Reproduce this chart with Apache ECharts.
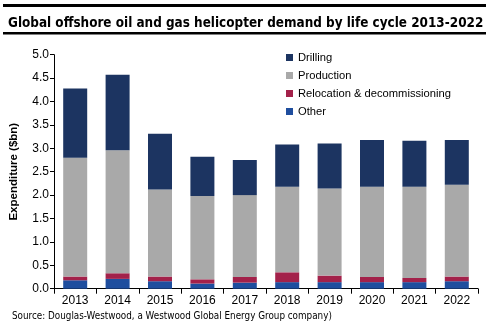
<!DOCTYPE html>
<html><head><meta charset="utf-8">
<script src="https://cdn.jsdelivr.net/npm/echarts@6/dist/echarts.min.js"></script>
<style>html,body{margin:0;padding:0;background:#fff}#c{width:500px;height:331px}</style>
</head><body><div id="c"></div>
<script>
const years = ['2013','2014','2015','2016','2017','2018','2019','2020','2021','2022'];
const other = [0.18,0.21,0.16,0.11,0.13,0.14,0.14,0.14,0.14,0.16];
const relocation = [0.08,0.12,0.10,0.09,0.12,0.21,0.14,0.11,0.09,0.10];
const production = [2.54,2.63,1.86,1.78,1.75,1.83,1.86,1.93,1.95,1.96];
const drilling = [1.48,1.61,1.19,0.84,0.75,0.90,0.96,1.00,0.98,0.96];
const yTicks = ['0.0','0.5','1.0','1.5','2.0','2.5','3.0','3.5','4.0','4.5','5.0'];

const chart = echarts.init(document.getElementById('c'));
const ff = 'Liberation Sans, Arial, sans-serif';
function s(name, data, color){
  return {name, type:'bar', stack:'a', data, barWidth:24, itemStyle:{color}, emphasis:{disabled:true}};
}
chart.setOption({
  animation:false,
  textStyle:{fontFamily:ff},
  title:{text:'Global offshore oil and gas helicopter demand by life cycle 2013-2022', left:3, top:12,
    textStyle:{fontFamily:'DejaVu Sans Condensed', fontWeight:'bold', fontSize:13.4, color:'#000'}},
  graphic:[
    {type:'rect', shape:{x:3,y:4,width:483,height:3}, style:{fill:'#000'}},
    {type:'rect', shape:{x:3,y:32,width:483,height:2.5}, style:{fill:'#000'}},
    {type:'text', left:12, top:311, style:{text:'Source: Douglas-Westwood, a Westwood Global Energy Group company)', fill:'#000', font:'9.8px DejaVu Sans Condensed'}}
  ],
  legend:{
    data:['Drilling','Production','Relocation & decommissioning','Other'],
    orient:'vertical', left:281, top:47, itemWidth:7, itemHeight:7, itemGap:7,
    textStyle:{fontSize:11.2, color:'#000', fontFamily:ff}, icon:'rect'
  },
  grid:{left:48, right:22, top:54.7, bottom:42.3},
  xAxis:{type:'category', data:years,
    axisLine:{lineStyle:{color:'#000'}},
    axisTick:{show:true, alignWithLabel:false, length:5, lineStyle:{color:'#000'}},
    axisLabel:{color:'#000', fontSize:12, margin:6, fontFamily:ff}},
  yAxis:{type:'value', min:0, max:5, interval:0.5,
    name:'Expenditure ($bn)', nameLocation:'middle', nameGap:34,
    nameTextStyle:{fontWeight:'bold', fontSize:11.5, color:'#000', fontFamily:ff},
    axisLine:{show:true, lineStyle:{color:'#000'}},
    axisTick:{show:true, length:4, lineStyle:{color:'#000'}},
    splitLine:{show:false},
    axisLabel:{color:'#000', fontSize:12, margin:5, fontFamily:ff,
      formatter:(v)=>yTicks[Math.round(v*2)]}},
  series:[
    s('Other', other, '#1f4e9e'),
    s('Relocation & decommissioning', relocation, '#a3214a'),
    s('Production', production, '#a9a9a9'),
    s('Drilling', drilling, '#1c3461')
  ]
});
</script></body></html>
